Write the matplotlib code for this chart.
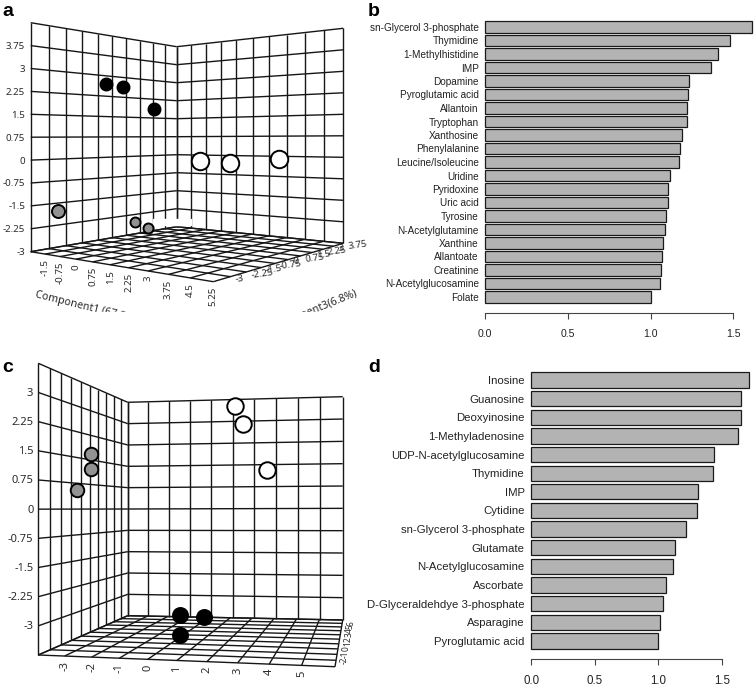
import matplotlib
matplotlib.use('Agg')
import matplotlib.pyplot as plt
from matplotlib.patches import Rectangle
import numpy as np

plt.rcParams['font.family'] = ['Liberation Sans', 'DejaVu Sans']

W, H = 754, 687

# panel b
b_names = ['sn-Glycerol 3-phosphate', 'Thymidine', '1-Methylhistidine', 'IMP', 'Dopamine',
           'Pyroglutamic acid', 'Allantoin', 'Tryptophan', 'Xanthosine', 'Phenylalanine',
           'Leucine/Isoleucine', 'Uridine', 'Pyridoxine', 'Uric acid', 'Tyrosine',
           'N-Acetylglutamine', 'Xanthine', 'Allantoate', 'Creatinine',
           'N-Acetylglucosamine', 'Folate']
b_vals = [1.613, 1.484, 1.411, 1.369, 1.234, 1.226, 1.222, 1.218, 1.193, 1.181, 1.173,
          1.120, 1.108, 1.108, 1.096, 1.090, 1.078, 1.072, 1.066, 1.058, 1.005]

# panel d
d_names = ['Inosine', 'Guanosine', 'Deoxyinosine', '1-Methyladenosine', 'UDP-N-acetylglucosamine',
           'Thymidine', 'IMP', 'Cytidine', 'sn-Glycerol 3-phosphate', 'Glutamate',
           'N-Acetylglucosamine', 'Ascorbate', 'D-Glyceraldehdye 3-phosphate', 'Asparagine',
           'Pyroglutamic acid']
d_vals = [1.710, 1.652, 1.647, 1.629, 1.435, 1.427, 1.314, 1.306, 1.214, 1.133, 1.115,
          1.062, 1.033, 1.015, 0.999]

bar_ticks = [0.0, 0.5, 1.0, 1.5]

# panel a scores
a_black_z = [-0.32, 0.56, 2.31]
a_black_y = [2.69, 2.63, 1.86]
a_gray_z = [-2.62, 1.20, 1.97]
a_gray_y = [-1.77, -2.55, -2.84]
a_white_x = [-1.03, 0.46, 2.67]
a_white_y = [-0.26, -0.29, -0.10]

a_y_ticks = [3.75, 3, 2.25, 1.5, 0.75, 0, -0.75, -1.5, -2.25, -3]
a_x_ticks = [-1.5, -0.75, 0, 0.75, 1.5, 2.25, 3, 3.75, 4.5, 5.25]
a_z_ticks = [-3, -2.25, -1.5, -0.75, 0, 0.75, 1.5, 2.25, 3, 3.75]

# panel c scores
c_gray_z = [2.08, 2.12, 0.61]
c_gray_y = [1.69, 1.23, 0.57]
c_white_x = [1.11, 1.49, 2.56]
c_white_y = [3.53, 2.90, 1.32]
c_black_x = [-1.49, -0.33]
c_black_y = [-3.69, -3.73]
c_black_floor_x = [-0.1]
c_black_floor_z = [1.9]

c_y_ticks = [3, 2.25, 1.5, 0.75, 0, -0.75, -1.5, -2.25, -3]
c_x_ticks = [-3, -2, -1, 0, 1, 2, 3, 4, 5]
c_z_ticks = [-2, -1, 0, 1, 2, 3, 4, 5, 6]


class Face:
    # one wall of the box: maps (u, v) in chart units onto the page
    def __init__(self, urange, vrange, corners):
        self.u0, self.u1 = urange
        self.v0, self.v1 = vrange
        src = [(0, 0), (1, 0), (1, 1), (0, 1)]
        A, b = [], []
        for (s, t), (px, py) in zip(src, corners):
            A.append([s, t, 1, 0, 0, 0, -s * px, -t * px])
            A.append([0, 0, 0, s, t, 1, -s * py, -t * py])
            b += [px, py]
        self.h = np.append(np.linalg.solve(np.array(A), np.array(b)), 1).reshape(3, 3)

    def __call__(self, u, v):
        s = (np.asarray(u, float) - self.u0) / (self.u1 - self.u0)
        t = (np.asarray(v, float) - self.v0) / (self.v1 - self.v0)
        d = self.h[2, 0] * s + self.h[2, 1] * t + 1
        return ((self.h[0, 0] * s + self.h[0, 1] * t + self.h[0, 2]) / d,
                (self.h[1, 0] * s + self.h[1, 1] * t + self.h[1, 2]) / d)

    def grid(self, ax, n=10):
        for u in np.linspace(self.u0, self.u1, n + 1):
            x, y = self([u, u], [self.v0, self.v1])
            ax.plot(x, y, color='#161616', lw=1.0, solid_capstyle='butt', zorder=1)
        for v in np.linspace(self.v0, self.v1, n + 1):
            x, y = self([self.u0, self.u1], [v, v])
            ax.plot(x, y, color='#161616', lw=1.0, solid_capstyle='butt', zorder=1)


def dots(ax, face, u, v, size, color):
    x, y = face(u, v)
    d = size * 72 / 100
    ax.scatter(x, y, s=d ** 2, c=color, edgecolors='black', linewidths=1.4, zorder=3)


def hbars(names, vals, left, px_per_unit, first, step, top, bottom, fs, tick_fs, tick_pad):
    ax = fig.add_axes([left / W, 1 - bottom / H, (W - left) / W, (bottom - top) / H])
    ax.patch.set_alpha(0)
    pos = np.arange(len(vals))
    ax.barh(pos, vals, height=0.82, color='#b3b3b3', edgecolor='#1a1a1a', linewidth=0.9, clip_on=False)
    ax.set_xlim(0, (W - left) / px_per_unit)
    ax.set_ylim((bottom - first) / step, (top - first) / step)
    ax.set_yticks(pos)
    ax.set_yticklabels(names, fontsize=fs, color='#222222')
    ax.tick_params(axis='y', length=0, pad=4.8)
    ax.set_xticks(bar_ticks)
    ax.set_xticklabels([f'{t:.1f}' for t in bar_ticks], fontsize=tick_fs, color='#222222')
    ax.tick_params(axis='x', length=4.5, width=0.8, color='#444444', pad=tick_pad)
    for s in ['top', 'left', 'right']:
        ax.spines[s].set_visible(False)
    ax.spines['bottom'].set_bounds(0, 1.5)
    ax.spines['bottom'].set_color('#444444')
    ax.spines['bottom'].set_linewidth(0.8)
    return ax


fig = plt.figure(figsize=(W / 100, H / 100), dpi=100)
page = fig.add_axes([0, 0, 1, 1])
page.set_xlim(0, W)
page.set_ylim(H, 0)
page.axis('off')

tick_style = dict(family=['Noto Sans', 'DejaVu Sans'], color='#2a2a2a', zorder=4)

# panel a
a_left = Face((-3.75, 3.75), (-3, 4.5), [(30.7, 251.7), (176.7, 226.7), (176.7, 46.7), (30.7, 22.7)])
a_right = Face((-2.25, 5.25), (-3, 4.5), [(176.7, 226.7), (343.3, 243.3), (343.3, 28.3), (176.7, 46.7)])
a_floor = Face((-2.25, 5.25), (-3.75, 3.75), [(30.7, 251.7), (213.3, 281.7), (343.3, 243.3), (176.7, 226.7)])
for f in (a_left, a_right, a_floor):
    f.grid(page)
# the source has a small scanned-out gap in the wall lines above the back corner
page.add_patch(Rectangle((153, 218.5), 38, 6, color='white', zorder=2))

for t in a_y_ticks:
    x, y = a_left(-3.75, t)
    page.text(x - 5.5, y + 1, str(t), ha='right', va='center', fontsize=7, **tick_style)
for t in a_x_ticks:
    x, y = a_floor(t, -3.75)
    page.text(x, y + 5, str(t), ha='center', va='top', rotation=90, fontsize=7, **tick_style)
for t in a_z_ticks:
    x, y = a_floor(5.25, t)
    page.text(x + 4, y + 2, str(t), ha='left', va='center', rotation=8, fontsize=7, **tick_style)

page.text(35, 295, 'Component1 (67.8%)', rotation=-14, rotation_mode='anchor', ha='left', va='center',
          fontsize=7.7, **tick_style)
page.text(357, 293, 'Component3(6.8%)', rotation=22, rotation_mode='anchor', ha='right', va='center',
          fontsize=7.7, **tick_style)
page.add_patch(Rectangle((0, 312), 370, 30, color='white', zorder=5))

dots(page, a_left, a_black_z, a_black_y, 12, 'black')
dots(page, a_left, a_gray_z[:1], a_gray_y[:1], 13, '#929292')
dots(page, a_left, a_gray_z[1:], a_gray_y[1:], 10, '#929292')
dots(page, a_right, a_white_x, a_white_y, 17.5, 'white')

# panel c
c_left = Face((-3, 7), (-3.75, 3.75), [(38.3, 655), (127.7, 615.7), (127.7, 402.3), (38.3, 363.3)])
c_right = Face((-4, 6), (-3.75, 3.75), [(127.7, 615.7), (342.7, 620), (342.7, 396.7), (127.7, 402.3)])
c_floor = Face((-4, 6), (-3, 7), [(38.3, 655), (335, 666.7), (342.7, 620), (127.7, 615.7)])
for f in (c_left, c_right, c_floor):
    f.grid(page)

for t in c_y_ticks:
    x, y = c_left(-3, t)
    page.text(x - 5, y + 1, str(t), ha='right', va='center', fontsize=8, **tick_style)
for t in c_x_ticks:
    x, y = c_floor(t, -3)
    page.text(x, y + 5, str(t), ha='center', va='top', rotation=90, fontsize=8, **tick_style)
for t in c_z_ticks:
    x, y = c_floor(6, t)
    page.text(x + 4, y, str(t), ha='left', va='center', rotation=90, fontsize=6, **tick_style)

dots(page, c_left, c_gray_z, c_gray_y, 13.5, '#929292')
dots(page, c_right, c_white_x, c_white_y, 16.5, 'white')
dots(page, c_right, c_black_x, c_black_y, 15, 'black')
dots(page, c_floor, c_black_floor_x, c_black_floor_z, 15, 'black')

# panels b and d
hbars(b_names, b_vals, 485.3, 165.2, 27, 13.5, 20, 313.3, 7.2, 7.6, 7)
hbars(d_names, d_vals, 531.3, 127.1, 380, 18.64, 365, 659.3, 8.2, 8.3, 7)

for label, x, y in [('a', 2, 16), ('b', 368, 16), ('c', 2, 372.5), ('d', 368, 372.5)]:
    page.text(x, y, label, fontsize=14, fontweight='bold', ha='left', va='baseline', color='black')

fig.savefig('out.png', dpi=100)
